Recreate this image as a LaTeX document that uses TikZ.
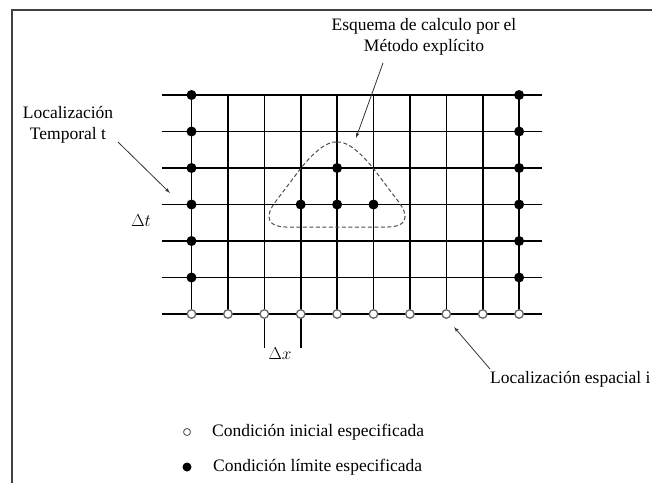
\documentclass[tikz,border=0pt]{standalone}
\usepackage{fontspec}
\setmainfont{Liberation Serif}
\usetikzlibrary{arrows, positioning, calc}

\begin{document}
\begin{tikzpicture}[
    x=1pt, y=-1pt,
    gridline/.style={draw, line width=1.6pt},
    fullpt/.style={circle, fill=black, inner sep=0pt, minimum size=10pt},
    openpt/.style={circle, draw=black!60, fill=white, line width=1.3pt, inner sep=0pt, minimum size=8.5pt},
    label/.style={font=\fontsize{17.5}{21}\selectfont, align=center, inner sep=0pt},
    line/.style={draw, -latex', line width=0.8pt, black!80}
]
\useasboundingbox (0,0) rectangle (652,482);
\draw [line width=1.5pt, black!75] (12,10) rectangle (700,520);

% grid points
\foreach \i in {0,...,9}
  \foreach \j in {0,...,6}
    \coordinate (p-\i-\j) at ({191.5+36.4*\i},{95+36.5*\j});

\foreach \j in {0,...,6}
  \path [gridline] ($(p-0-\j)+(-29.5,0)$) -- ($(p-9-\j)+(23,0)$);
\foreach \i in {0,...,9}
  \path [gridline] (p-\i-0) -- (p-\i-6);
\path [gridline] (p-2-6) -- ++(0,34);
\path [gridline] (p-3-6) -- ++(0,34);

% explicit scheme
\draw [dashed, dash pattern=on 4pt off 2.5pt, line width=1pt, black!70]
  (337,142) .. controls (347,141) and (360,152) .. (373,168) -- (398,201)
  .. controls (411,218) and (405,227) .. (388,227) -- (286,227)
  .. controls (269,227) and (263,218) .. (276,201) -- (301,168)
  .. controls (314,152) and (327,141) .. (337,142);

\foreach \j in {0,...,5} {
  \node [fullpt] (l-\j) at (p-0-\j) {};
  \node [fullpt] (r-\j) at (p-9-\j) {};
}
\foreach \i in {0,...,9}
  \node [openpt] (o-\i) at (p-\i-6) {};
\node [fullpt] (c-top) at (p-4-2) {};
\node [fullpt] (c-left) at (p-3-3) {};
\node [fullpt] (c-mid) at (p-4-3) {};
\node [fullpt] (c-right) at (p-5-3) {};

% labels
\node [label] (esquema) at (424,37) {Esquema de calculo por el\\Método explícito};
\node [label] (temporal) at (68,125) {Localización\\Temporal t};
\node [label, anchor=west] (espacial) at (490,379) {Localización espacial i};
\node [label] (dt) at (141,221) {$\Delta t$};
\node [label] (dx) at (280,354) {$\Delta x$};

\coordinate (esq-tail) at (383,63);
\coordinate (esq-tip) at (356,138);
\coordinate (tem-tail) at (118,142);
\coordinate (tem-tip) at (170,193);
\coordinate (esp-tail) at (490,369);
\coordinate (esp-tip) at (454,327);
\path [line] (esq-tail) -- (esq-tip);
\path [line] (tem-tail) -- (tem-tip);
\path [line] (esp-tail) -- (esp-tip);

% legend
\node [openpt, minimum size=7pt, line width=1pt] (key-open) at (187,432) {};
\node [fullpt, minimum size=9pt] (key-full) at (187,467) {};
\node [label, anchor=west] (key-open-text) at (212,432) {Condición inicial especificada};
\node [label, anchor=west] (key-full-text) at (213,467) {Condición límite especificada};
\end{tikzpicture}
\end{document}
